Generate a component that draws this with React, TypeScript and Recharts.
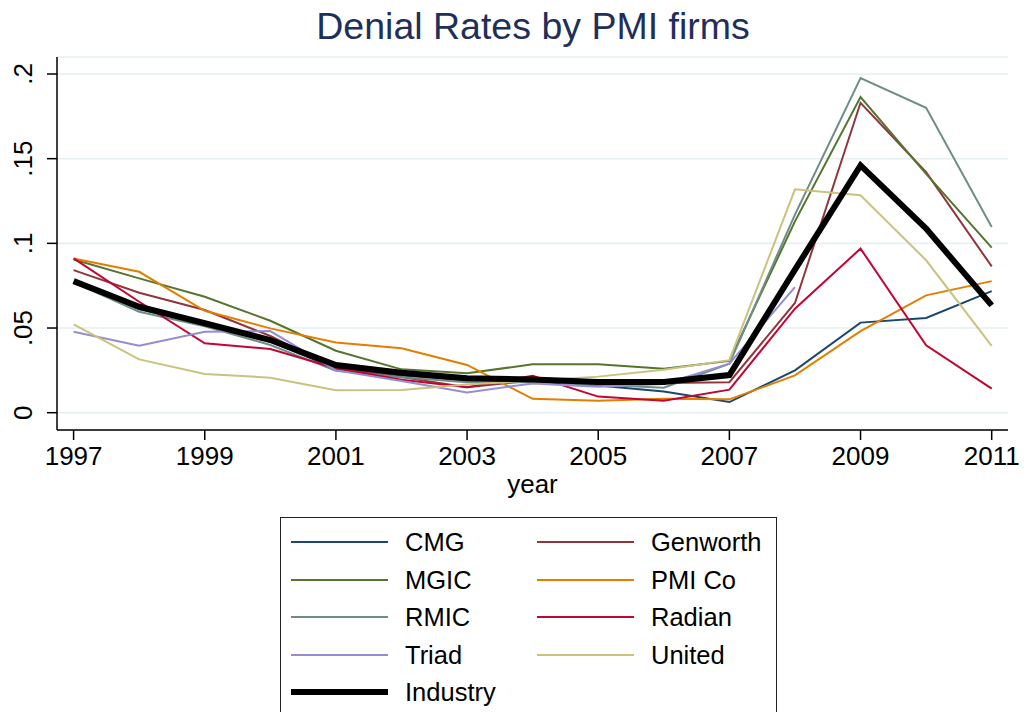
import { LineChart, Line, XAxis, YAxis, CartesianGrid } from "recharts";

const years = [1997, 1998, 1999, 2000, 2001, 2002, 2003, 2004, 2005, 2006, 2007, 2008, 2009, 2010, 2011];

const cmg = [0.077, 0.061, 0.052, 0.042, 0.026, 0.022, 0.019, 0.019, 0.016, 0.0125, 0.0063, 0.025, 0.0532, 0.0559, 0.0718];
const genworth = [0.0842, 0.0708, 0.0606, 0.0453, 0.026, 0.021, 0.015, 0.019, 0.018, 0.0175, 0.018, 0.0648, 0.183, 0.142, 0.0864];
const mgic = [0.0905, 0.0793, 0.0685, 0.0543, 0.0366, 0.0256, 0.0233, 0.0286, 0.0286, 0.026, 0.0306, 0.113, 0.1864, 0.141, 0.0975];
const pmiCo = [0.0911, 0.0832, 0.0602, 0.0498, 0.0414, 0.038, 0.0282, 0.0082, 0.007, 0.0083, 0.0079, 0.022, 0.0482, 0.0693, 0.0777];
const rmic = [0.077, 0.0596, 0.051, 0.04, 0.0247, 0.021, 0.018, 0.018, 0.0165, 0.0148, 0.029, 0.117, 0.1976, 0.18, 0.1096];
const radian = [0.0911, 0.0655, 0.041, 0.0376, 0.0262, 0.0195, 0.015, 0.0218, 0.0095, 0.007, 0.0136, 0.0614, 0.0969, 0.0398, 0.0142];
const triad = [0.0478, 0.0396, 0.0478, 0.0482, 0.025, 0.0187, 0.012, 0.0173, 0.0153, 0.017, 0.029, 0.0742, null, null, null];
const united = [0.0522, 0.0315, 0.0228, 0.0207, 0.0132, 0.0134, 0.0166, 0.019, 0.0213, 0.0253, 0.031, 0.1319, 0.1284, 0.09, 0.0394];
const industry = [0.0777, 0.0626, 0.0528, 0.0429, 0.0282, 0.0236, 0.0203, 0.0196, 0.0182, 0.0182, 0.0222, 0.0845, 0.146, 0.1087, 0.0634];

const xTicks = [1997, 1999, 2001, 2003, 2005, 2007, 2009, 2011];
const yTicks = [0, 0.05, 0.1, 0.15, 0.2];

// legend order is row-major, two columns
const SERIES = [
  { key: "CMG", values: cmg, color: "#1a476f", width: 2 },
  { key: "Genworth", values: genworth, color: "#90353b", width: 2 },
  { key: "MGIC", values: mgic, color: "#55752f", width: 2 },
  { key: "PMI Co", values: pmiCo, color: "#e37e00", width: 2 },
  { key: "RMIC", values: rmic, color: "#6e8e84", width: 2 },
  { key: "Radian", values: radian, color: "#c10534", width: 2 },
  { key: "Triad", values: triad, color: "#938dd2", width: 2 },
  { key: "United", values: united, color: "#cac27e", width: 2 },
  { key: "Industry", values: industry, color: "#000000", width: 6 },
];

const FONT = '"Liberation Sans", Arial, Helvetica, sans-serif';

const data = years.map((year, i) => {
  const row: Record<string, number | null> = { year };
  SERIES.forEach((s) => {
    row[s.key] = s.values[i];
  });
  return row;
});

const fmtY = (v: number) => (v === 0 ? "0" : String(v).replace(/^0/, ""));

function YTick(props: any) {
  const { x, y, payload } = props;
  return (
    <g transform={`translate(${x - 22}, ${y}) rotate(-90)`}>
      <text x={0} y={9} textAnchor="middle" fontSize={26} fill="#000" fontFamily={FONT}>
        {fmtY(payload.value)}
      </text>
    </g>
  );
}

function YearLabel(props: any) {
  const vb = props.viewBox || { x: 57, y: 430, width: 951 };
  return (
    <text
      x={vb.x + vb.width / 2}
      y={vb.y + 63}
      textAnchor="middle"
      fontSize={26}
      fill="#000"
      fontFamily={FONT}
    >
      year
    </text>
  );
}

function LegendBox() {
  return (
    <div
      style={{
        position: "absolute",
        left: 280,
        top: 517,
        width: 497,
        height: 210,
        border: "1.5px solid #222",
        boxSizing: "border-box",
        background: "#fff",
        fontFamily: FONT,
        fontSize: 25.5,
        color: "#000",
      }}
    >
      {SERIES.map((s, i) => {
        const col = i % 2;
        const row = Math.floor(i / 2);
        return (
          <div
            key={s.key}
            style={{
              position: "absolute",
              left: col === 0 ? 10 : 256,
              top: 24 + row * 37.5 - 15,
              height: 30,
              display: "flex",
              alignItems: "center",
              whiteSpace: "nowrap",
            }}
          >
            <div style={{ width: 97, height: s.width, background: s.color }} />
            <span style={{ marginLeft: 17, lineHeight: "30px" }}>{s.key}</span>
          </div>
        );
      })}
    </div>
  );
}

export default function App() {
  return (
    <div
      style={{
        position: "absolute",
        left: 0,
        top: 0,
        width: 1024,
        height: 712,
        background: "#fff",
        overflow: "hidden",
        fontFamily: FONT,
      }}
    >
      <div
        style={{
          position: "absolute",
          left: 133,
          top: 8,
          width: 800,
          textAlign: "center",
          fontSize: 37.5,
          lineHeight: "37.5px",
          color: "#1f2f5b",
          fontFamily: FONT,
        }}
      >
        Denial Rates by PMI firms
      </div>
      <LineChart
        width={1024}
        height={712}
        data={data}
        margin={{ top: 57, right: 16, bottom: 212, left: 0 }}
      >
        <CartesianGrid vertical={false} stroke="#e6eff1" strokeWidth={1.6} />
        <XAxis
          dataKey="year"
          type="number"
          domain={[1997, 2011]}
          ticks={xTicks}
          interval={0}
          padding={{ left: 16.6, right: 16.3 }}
          height={70}
          tickSize={10}
          tickMargin={7}
          tick={{ fontSize: 26, fill: "#000", fontFamily: FONT }}
          axisLine={{ stroke: "#000", strokeWidth: 1.5 }}
          tickLine={{ stroke: "#000", strokeWidth: 1.5 }}
          label={<YearLabel />}
        />
        <YAxis
          type="number"
          domain={[0, 0.2]}
          ticks={yTicks}
          interval={0}
          width={57}
          padding={{ top: 17, bottom: 17.3 }}
          tickSize={10}
          tick={<YTick />}
          axisLine={{ stroke: "#000", strokeWidth: 1.5 }}
          tickLine={{ stroke: "#000", strokeWidth: 1.5 }}
        />
        {SERIES.map((s) => (
          <Line
            key={s.key}
            type="linear"
            dataKey={s.key}
            stroke={s.color}
            strokeWidth={s.width}
            dot={false}
            activeDot={false}
            isAnimationActive={false}
          />
        ))}
      </LineChart>
      <LegendBox />
    </div>
  );
}
